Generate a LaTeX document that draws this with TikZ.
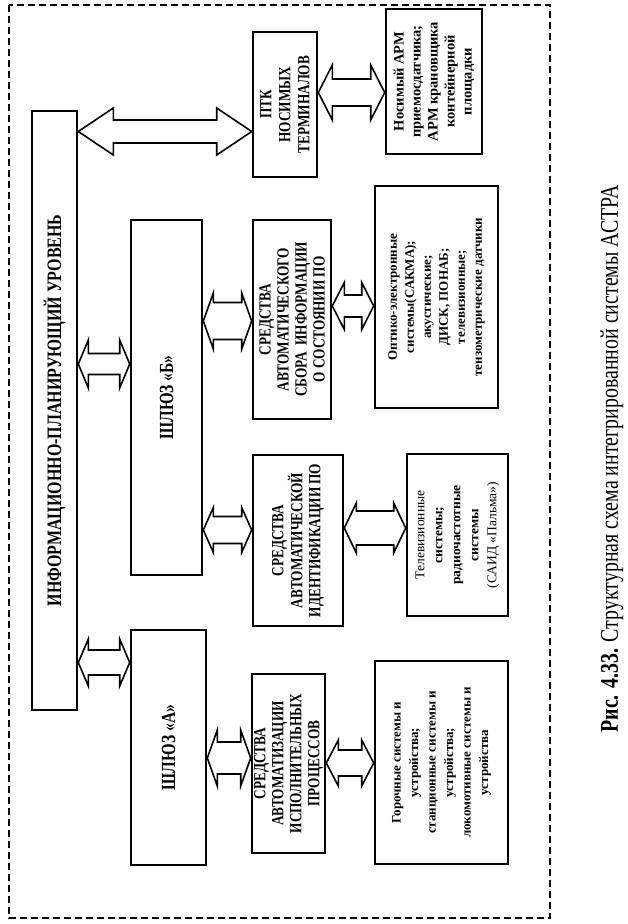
\documentclass[tikz,border=0pt]{standalone}
\usepackage{fontspec}
\setmainfont{Liberation Serif}
\newfontfamily\cnd[FakeStretch=0.78]{Liberation Serif}
\usetikzlibrary{calc}
\tikzset{
  box/.style={draw, line width=2.6pt, fill=white, inner sep=0pt},
  blockarrow/.style={draw, line width=1.6pt, fill=white, line join=miter},
  rot/.style={rotate=90, align=center, inner sep=0pt},
  frame/.style={line width=1.2pt, dash pattern=on 7pt off 4pt},
}
% #1 left node, #2 right node, #3 centre y, #4 shaft half, #5 head half, #6 head length
\newcommand\dblarrow[6]{%
  \draw[blockarrow]
    (#1.east |- 0,#3)
    -- ++(#6,-#5) -- ++(0,#5-#4)
    -- ($(#2.west |- 0,#3)+(-#6,-#4)$) -- ++(0,#4-#5)
    -- (#2.west |- 0,#3)
    -- ++(-#6,#5) -- ++(0,#4-#5)
    -- ($(#1.east |- 0,#3)+(#6,#4)$) -- ++(0,#5-#4) -- cycle;}
\begin{document}
\begin{tikzpicture}[x=1pt,y=-1pt]
\useasboundingbox (0,0) rectangle (628,924);
\draw[frame] (9,5) rectangle (550,918);

\node[box, minimum width=45, minimum height=599] (info) at (54.5,410.5) {};
\node[box, minimum width=71, minimum height=355] (shlB) at (166.5,397.5) {};
\node[box, minimum width=75, minimum height=235] (shlA) at (168.5,747.5) {};
\node[box, minimum width=64, minimum height=145] (ptk) at (285,104.5) {};
\node[box, minimum width=96, minimum height=145] (arm) at (434,81.5) {};
\node[box, minimum width=78, minimum height=199] (sbor) at (292,319.5) {};
\node[box, minimum width=123, minimum height=222] (opt) at (436.5,297) {};
\node[box, minimum width=90, minimum height=171] (ident) at (298,540.5) {};
\node[box, minimum width=101, minimum height=162] (tv) at (457.5,535) {};
\node[box, minimum width=73, minimum height=179] (aip) at (288.5,763.5) {};
\node[box, minimum width=133, minimum height=203] (gor) at (441.5,762.5) {};

\dblarrow{info}{ptk}{131.5}{11.5}{23.5}{35}
\dblarrow{ptk}{arm}{92.5}{13.5}{27.5}{14}
\dblarrow{info}{shlB}{364}{10.5}{24}{10}
\dblarrow{shlB}{sbor}{321}{18.5}{28}{10}
\dblarrow{sbor}{opt}{306}{11}{23.5}{12}
\dblarrow{shlB}{ident}{530}{13.5}{22.5}{10}
\dblarrow{ident}{tv}{528}{17}{25}{12}
\dblarrow{info}{shlA}{662.5}{12.5}{23.5}{10}
\dblarrow{shlA}{aip}{758}{16}{28}{10}
\dblarrow{aip}{gor}{763}{13}{23}{12}

\node[rot, font={\cnd\bfseries\fontsize{20.5}{22}\selectfont}] at (info) {ИНФОРМАЦИОННО-ПЛАНИРУЮЩИЙ УРОВЕНЬ};
\node[rot, font={\cnd\bfseries\fontsize{20}{22}\selectfont}] at (shlB) {ШЛЮЗ «Б»};
\node[rot, font={\cnd\bfseries\fontsize{20}{22}\selectfont}] at (shlA) {ШЛЮЗ «А»};
\node[rot, font={\cnd\bfseries\fontsize{17}{19}\selectfont}] at (ptk) {ПТК\\НОСИМЫХ\\ТЕРМИНАЛОВ};
\node[rot, font={\bfseries\fontsize{14.5}{17}\selectfont}] at (arm) {Носимый АРМ\\приемосдатчика;\\АРМ крановщика\\контейнерной\\площадки};
\node[rot, font={\cnd\bfseries\fontsize{17}{18}\selectfont}] at (sbor) {СРЕДСТВА\\АВТОМАТИЧЕСКОГО\\СБОРА~~ИНФОРМАЦИИ\\О СОСТОЯНИИ ПО};
\node[rot, font={\bfseries\fontsize{13}{17}\selectfont}] at (opt) {Оптико-электронные\\системы(САКМА);\\акустические;\\ДИСК, ПОНАБ;\\телевизионные;\\тензометрические датчики};
\node[rot, font={\cnd\bfseries\fontsize{17}{18}\selectfont}] at (ident) {СРЕДСТВА\\АВТОМАТИЧЕСКОЙ\\ИДЕНТИФИКАЦИИ ПО};
\node[rot, font={\fontsize{13.5}{18}\selectfont}] at (tv) {Телевизионные\\\textbf{системы;}\\\textbf{радиочастотные}\\\textbf{системы}\\(САИД «Пальма»)};
\node[rot, font={\cnd\bfseries\fontsize{17}{18}\selectfont}] at (aip) {СРЕДСТВА\\АВТОМАТИЗАЦИИ\\ИСПОЛНИТЕЛЬНЫХ\\ПРОЦЕССОВ};
\node[rot, font={\bfseries\fontsize{13}{17.5}\selectfont}] at (gor) {Горочные системы и\\устройства;\\станционные системы и\\устройства;\\локомотивные системы и\\устройства};

\node[rot, font={\cnd\fontsize{25.5}{27}\selectfont}] (caption) at (612,459) {\textbf{Рис. 4.33.} Структурная схема интегрированной системы АСТРА};
\end{tikzpicture}
\end{document}
